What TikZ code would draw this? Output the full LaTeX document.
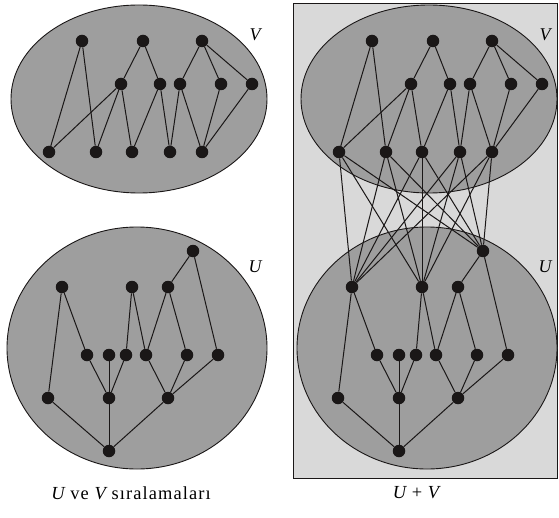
\documentclass[tikz,border=0pt]{standalone}
\usepackage{fontspec}
\setmainfont{Liberation Serif}
\newfontfamily\capfont[LetterSpace=6]{Liberation Serif}
\usetikzlibrary{positioning}
\definecolor{BoxGray}{RGB}{217,217,217}
\definecolor{SetGray}{RGB}{158,158,158}
\definecolor{DotBlack}{RGB}{26,23,23}

\begin{document}
\begin{tikzpicture}[x=1bp, y=-1bp,
    dot/.style={circle, fill=DotBlack, inner sep=0pt, minimum size=12.5bp},
    setshape/.style={draw=DotBlack, fill=SetGray, line width=0.9bp},
    edge/.style={draw=DotBlack, line width=1bp},
    lbl/.style={font=\fontsize{18}{21}\selectfont\itshape, inner sep=0pt},
    caption/.style={font=\fontsize{18.5}{22}\selectfont\capfont, inner sep=0pt}
]
\useasboundingbox (0,0) rectangle (559,518);
\filldraw[fill=BoxGray, draw=DotBlack, line width=0.9bp] (293,3) rectangle (557,478);

\foreach \s/\dx in {l/0, r/290} {
  \begin{scope}[xshift=\dx bp]
    % the two orders
    \draw[setshape] (139,99) ellipse [x radius=128, y radius=94];
    \draw[setshape] (137,348) ellipse [x radius=130, y radius=121];
    \node[lbl] (\s-vlbl) at (255,35) {V};
    \node[lbl] (\s-ulbl) at (255,267) {U};

    % V
    \node[dot] (\s-vt1) at (82,41) {};
    \node[dot] (\s-vt2) at (143,41) {};
    \node[dot] (\s-vt3) at (202,41) {};
    \node[dot] (\s-vm1) at (121,84) {};
    \node[dot] (\s-vm2) at (160,84) {};
    \node[dot] (\s-vm3) at (180,84) {};
    \node[dot] (\s-vm4) at (221,84) {};
    \node[dot] (\s-vm5) at (252,84) {};
    \node[dot] (\s-vb1) at (49,152) {};
    \node[dot] (\s-vb2) at (96,152) {};
    \node[dot] (\s-vb3) at (132,152) {};
    \node[dot] (\s-vb4) at (170,152) {};
    \node[dot] (\s-vb5) at (202,152) {};

    % U
    \node[dot] (\s-ut) at (193,251) {};
    \node[dot] (\s-ua1) at (62,287) {};
    \node[dot] (\s-ua2) at (132,287) {};
    \node[dot] (\s-ua3) at (168,287) {};
    \node[dot] (\s-uc1) at (87,355) {};
    \node[dot] (\s-uc2) at (109,355) {};
    \node[dot] (\s-uc3) at (126,355) {};
    \node[dot] (\s-uc4) at (146,355) {};
    \node[dot] (\s-uc5) at (187,355) {};
    \node[dot] (\s-uc6) at (218,355) {};
    \node[dot] (\s-ud1) at (48,398) {};
    \node[dot] (\s-ud2) at (109,398) {};
    \node[dot] (\s-ud3) at (168,398) {};
    \node[dot] (\s-ub) at (109,451) {};

    \foreach \a/\b in {vt1/vb1, vt1/vb2, vt2/vm1, vt2/vm2, vt3/vm3, vt3/vm4, vt3/vm5,
                       vm1/vb1, vm1/vb2, vm1/vb3, vm2/vb3, vm2/vb4, vm3/vb4, vm3/vb5,
                       vm4/vb5, vm5/vb5,
                       ub/ud1, ub/ud2, ub/ud3, ud1/ua1, ud2/uc1, ud2/uc2, ud2/uc3,
                       ud3/uc4, ud3/uc5, ud3/uc6, ua1/uc1, ua2/uc3, ua2/uc4,
                       ua3/uc4, ua3/uc5, ua3/ut, ut/uc6}
      \draw[edge] (\s-\a) -- (\s-\b);
  \end{scope}
}

% every minimal element of V above every maximal element of U
\foreach \a in {vb1, vb2, vb3, vb4, vb5}
  \foreach \b in {ua1, ua2, ut}
    \draw[edge] (r-\a) -- (r-\b);

\node[caption] (capL) at (131,493) {{\itshape U} ve {\itshape V} sıralamaları};
\node[caption] (capR) at (416,493) {{\itshape U} + {\itshape V}};
\end{tikzpicture}
\end{document}
